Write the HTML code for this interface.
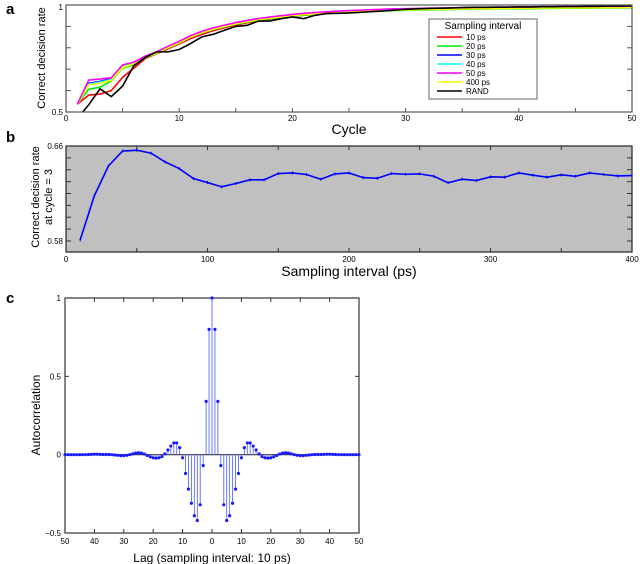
<!DOCTYPE html>
<html><head><meta charset="utf-8"><style>
body{margin:0;background:#fff;width:640px;height:564px;overflow:hidden}
svg{display:block;font-family:"Liberation Sans",Arial,sans-serif}
</style></head><body>
<svg id="fig" width="640" height="564" viewBox="0 0 640 564">
<text x="6" y="14" font-size="15" font-weight="bold">a</text>
<text x="6" y="142" font-size="15" font-weight="bold">b</text>
<text x="6" y="303" font-size="15" font-weight="bold">c</text>
<g id="ga"></g>
<g id="gb"></g>
<g id="gc"></g>
</svg>
<script>
// ---- Panel a data ----
const cycles=[];for(let i=1;i<=50;i++)cycles.push(i);
const s10=[0.536,0.579,0.584,0.600,0.662,0.705,0.750,0.772,0.795,0.818,0.843,0.863,0.880,0.894,0.906,0.917,0.926,0.934,0.941,0.947,0.952,0.957,0.961,0.964,0.967,0.970,0.972,0.974,0.976,0.978,0.979,0.980,0.981,0.982,0.983,0.984,0.985,0.986,0.986,0.987,0.987,0.988,0.988,0.989,0.989,0.990,0.990,0.990,0.991,0.991];
const s20=[0.536,0.606,0.616,0.645,0.705,0.720,0.753,0.774,0.799,0.822,0.849,0.869,0.885,0.898,0.910,0.920,0.929,0.936,0.942,0.948,0.953,0.957,0.960,0.963,0.966,0.968,0.970,0.972,0.974,0.975,0.976,0.977,0.978,0.979,0.980,0.981,0.981,0.982,0.982,0.983,0.983,0.984,0.984,0.985,0.985,0.985,0.986,0.986,0.986,0.987];
const s30=[0.536,0.634,0.643,0.655,0.715,0.730,0.758,0.778,0.804,0.827,0.854,0.874,0.890,0.903,0.915,0.925,0.934,0.941,0.947,0.953,0.958,0.962,0.965,0.968,0.971,0.973,0.975,0.977,0.979,0.980,0.981,0.982,0.983,0.984,0.985,0.986,0.986,0.987,0.987,0.988,0.988,0.989,0.989,0.990,0.990,0.990,0.991,0.991,0.991,0.992];
const s40=[0.536,0.630,0.640,0.652,0.712,0.728,0.757,0.777,0.803,0.826,0.853,0.873,0.889,0.902,0.914,0.924,0.933,0.940,0.946,0.952,0.957,0.961,0.964,0.967,0.970,0.972,0.974,0.976,0.978,0.979,0.980,0.981,0.982,0.983,0.984,0.985,0.985,0.986,0.986,0.987,0.987,0.988,0.988,0.989,0.989,0.989,0.990,0.990,0.990,0.991];
const s50=[0.536,0.649,0.654,0.660,0.720,0.733,0.761,0.781,0.807,0.830,0.857,0.877,0.893,0.906,0.918,0.928,0.937,0.944,0.950,0.956,0.961,0.965,0.968,0.971,0.974,0.976,0.978,0.980,0.982,0.983,0.984,0.985,0.986,0.987,0.988,0.989,0.989,0.990,0.990,0.991,0.991,0.992,0.992,0.993,0.993,0.993,0.994,0.994,0.994,0.995];
const s400=[0.536,0.627,0.635,0.648,0.708,0.726,0.755,0.775,0.801,0.824,0.851,0.871,0.887,0.900,0.912,0.922,0.931,0.938,0.944,0.950,0.955,0.959,0.962,0.965,0.968,0.970,0.972,0.974,0.976,0.977,0.978,0.979,0.980,0.981,0.982,0.983,0.983,0.984,0.984,0.985,0.985,0.986,0.986,0.987,0.987,0.987,0.988,0.988,0.988,0.989];
const sRand=[0.470,0.533,0.608,0.572,0.621,0.717,0.755,0.781,0.781,0.792,0.820,0.851,0.863,0.882,0.900,0.905,0.925,0.925,0.936,0.944,0.936,0.952,0.960,0.961,0.963,0.966,0.969,0.972,0.976,0.980,0.982,0.984,0.985,0.986,0.988,0.989,0.989,0.990,0.990,0.991,0.991,0.992,0.992,0.993,0.993,0.994,0.994,0.995,0.995,0.996];
const seriesNames=["10 ps","20 ps","30 ps","40 ps","50 ps","400 ps","RAND"];
const seriesColors=["#ff0000","#00ee00","#0000ff","#00ffff","#ff00ff","#ffff00","#000000"];
const aXTicks=[0,10,20,30,40,50];
// ---- Panel b data ----
const bX=[10,20,30,40,50,60,70,80,90,100,110,120,130,140,150,160,170,180,190,200,210,220,230,240,250,260,270,280,290,300,310,320,330,340,350,360,370,380,390,400];
const bY=[0.5808,0.618,0.6432,0.6558,0.6564,0.654,0.6466,0.641,0.6326,0.6292,0.6256,0.6284,0.6315,0.6315,0.6368,0.6373,0.636,0.632,0.6365,0.6373,0.6334,0.6328,0.6368,0.6362,0.6365,0.6345,0.629,0.632,0.6309,0.634,0.6337,0.6373,0.6354,0.6337,0.6357,0.6345,0.6373,0.636,0.6348,0.6351];
const bXTicks=[0,100,200,300,400];
// ---- Panel c data (lag 0..50, mirrored) ----
const cAcf=[1,0.80,0.34,-0.07,-0.32,-0.42,-0.39,-0.31,-0.22,-0.12,-0.02,0.045,0.075,0.075,0.055,0.03,0.005,-0.012,-0.02,-0.022,-0.02,-0.014,-0.005,0.004,0.01,0.012,0.01,0.005,0,-0.004,-0.006,-0.006,-0.004,-0.002,0,0.001,0.001,0.001,0.002,0.003,0.003,0.002,0.001,0,0,0,0,0,0,0,0];
const cXTicks=[-50,-40,-30,-20,-10,0,10,20,30,40,50];
const cYTicks=[-0.5,0,0.5,1];

const NS="http://www.w3.org/2000/svg";
function mk(p,tag,at){const e=document.createElementNS(NS,tag);for(const k in at)e.setAttribute(k,at[k]);p.appendChild(e);return e;}
function txt(p,x,y,s,sz,anchor,extra){const t=mk(p,"text",{x:x,y:y,"font-size":sz,"text-anchor":anchor||"middle"});if(extra)for(const k in extra)t.setAttribute(k,extra[k]);t.textContent=s;return t;}

// ===== Panel a =====
(function(){
const g=document.getElementById("ga");
const L=66,R=632,T=5,B=112;
const xs=v=>L+v/50*(R-L), ys=v=>B-(v-0.5)/0.5*(B-T);
mk(g,"defs",{}).innerHTML='<clipPath id="ca"><rect x="66" y="5" width="566" height="107"/></clipPath>';
const all=[s10,s20,s30,s40,s400,s50,sRand];const order=[0,1,2,3,5,4,6];
const lines=mk(g,"g",{"clip-path":"url(#ca)"});


order.forEach(i=>{const d=[s10,s20,s30,s40,s50,s400,sRand][i];
 const p=mk(lines,"polyline",{points:d.map((v,j)=>xs(cycles[j])+","+ys(v)).join(" "),fill:"none",stroke:seriesColors[i],"stroke-width":1.6});
 
 });
const fr=mk(g,"rect",{x:L,y:T,width:R-L,height:B-T,fill:"none",stroke:"#555","stroke-width":1.2});


for(let v=0.6;v<0.99;v+=0.1){mk(g,"line",{x1:L,x2:L+5,y1:ys(v),y2:ys(v),stroke:"#555"});mk(g,"line",{x1:R,x2:R-5,y1:ys(v),y2:ys(v),stroke:"#555"});}
for(let c=5;c<50;c+=5){mk(g,"line",{x1:xs(c),x2:xs(c),y1:B,y2:B-4,stroke:"#555"});}
aXTicks.forEach(v=>{const t=txt(g,xs(v),121,String(v),8);});
let t=txt(g,L-3,10,"1",8,"end");
t=txt(g,L-3,115,"0.5",8,"end");
t=txt(g,349,134,"Cycle",14);
t=txt(g,0,0,"Correct decision rate",11,"middle",{transform:"translate(45,58) rotate(-90)"});
const lg=mk(g,"g",{});


mk(lg,"rect",{x:429,y:19,width:108,height:80,fill:"#fff",stroke:"#666"});
txt(lg,483,29,"Sampling interval",10);
seriesNames.forEach((n,i)=>{const y=37+i*9;
 const e=mk(lg,"g",{});
 
 
 mk(e,"line",{x1:437,x2:462,y1:y,y2:y,stroke:seriesColors[i],"stroke-width":1.6});
 txt(e,466,y+3,n,8,"start");});
})();

// ===== Panel b =====
(function(){
const g=document.getElementById("gb");
const L=66,R=632,T=146,B=252;const y0=0.5707,y1=0.66;
const xs=v=>L+v/400*(R-L), ys=v=>B-(v-y0)/(y1-y0)*(B-T);
const bg=mk(g,"rect",{x:L,y:T,width:R-L,height:B-T,fill:"#c0c0c0",stroke:"#222","stroke-width":1.2});


for(let k=0;k<=8;k++){const v=0.58+k*0.01;mk(g,"line",{x1:L,x2:L+5,y1:ys(v),y2:ys(v),stroke:"#333"});mk(g,"line",{x1:R,x2:R-5,y1:ys(v),y2:ys(v),stroke:"#333"});}
for(let v=50;v<400;v+=50){mk(g,"line",{x1:xs(v),x2:xs(v),y1:B,y2:B-4,stroke:"#333"});mk(g,"line",{x1:xs(v),x2:xs(v),y1:T,y2:T+4,stroke:"#333"});}
const pl=mk(g,"polyline",{points:bX.map((x,i)=>xs(x)+","+ys(bY[i])).join(" "),fill:"none",stroke:"#0000ff","stroke-width":1.6});


bX.forEach((x,i)=>{const m=mk(g,"line",{x1:xs(x),x2:xs(x),y1:ys(bY[i])-1.5,y2:ys(bY[i])+1.5,stroke:"#0000ff","stroke-width":1});
 
 });
bXTicks.forEach(v=>{const t=txt(g,xs(v),262,String(v),8);});
let t=txt(g,L-3,ys(0.66)+3,"0.66",8,"end");
t=txt(g,L-3,ys(0.58)+3,"0.58",8,"end");
t=txt(g,349,276,"Sampling interval (ps)",14);
t=txt(g,0,0,"Correct decision rate",11,"middle",{transform:"translate(39,197) rotate(-90)"});
t=txt(g,0,0,"at cycle = 3",11,"middle",{transform:"translate(52,197) rotate(-90)"});
})();

// ===== Panel c =====
(function(){
const g=document.getElementById("gc");
const L=65,R=359,T=298,B=533;
const xs=v=>L+(v+50)/100*(R-L), ys=v=>B-(v+0.5)/1.5*(B-T);
const fr=mk(g,"rect",{x:L,y:T,width:R-L,height:B-T,fill:"#fff",stroke:"#333","stroke-width":1.2});


cYTicks.forEach(v=>{mk(g,"line",{x1:L,x2:L+4,y1:ys(v),y2:ys(v),stroke:"#333"});mk(g,"line",{x1:R,x2:R-4,y1:ys(v),y2:ys(v),stroke:"#333"});
 const t=txt(g,L-4,ys(v)+3,String(v).replace("-","\u2212"),8,"end");});
cXTicks.forEach(v=>{mk(g,"line",{x1:xs(v),x2:xs(v),y1:B,y2:B-4,stroke:"#333"});mk(g,"line",{x1:xs(v),x2:xs(v),y1:T,y2:T+4,stroke:"#333"});
 const t=txt(g,xs(v),544,String(Math.abs(v)),8);});
const bl=mk(g,"line",{x1:L,x2:R,y1:ys(0),y2:ys(0),stroke:"#333","stroke-width":1.2});


for(let lag=-50;lag<=50;lag++){const v=cAcf[Math.abs(lag)];const x=xs(lag);
 const s=mk(g,"line",{x1:x,x2:x,y1:ys(0),y2:ys(v),stroke:"#5a6cff","stroke-width":0.9});
 
 
 const c=mk(g,"circle",{cx:x,cy:ys(v),r:1.6,fill:"#1a1aff"});
 
 }
let t=txt(g,212,562,"Lag (sampling interval: 10 ps)",12);
t=txt(g,0,0,"Autocorrelation",12,"middle",{transform:"translate(40,415) rotate(-90)"});
})();
</script>
</body></html>
